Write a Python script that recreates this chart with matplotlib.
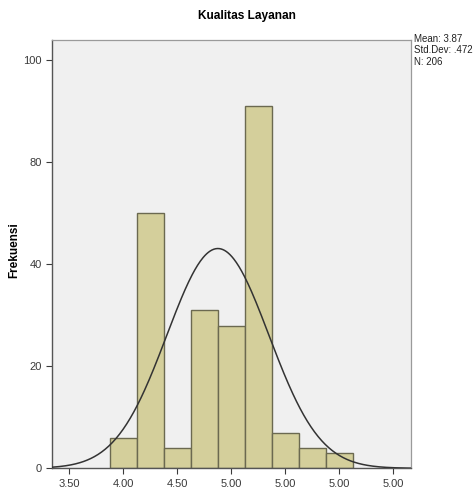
import numpy as np
import matplotlib.pyplot as plt

plt.rcParams['font.family'] = ['Liberation Sans', 'DejaVu Sans']

# data (bar centres in axis units, counts)
bin_centers = [4.0, 4.25, 4.5, 4.75, 5.0, 5.25, 5.5, 5.75, 6.0]
counts = [6, 50, 4, 31, 28, 71, 7, 4, 3]
bin_width = 0.25

x_ticks = [3.5, 4.0, 4.5, 5.0, 5.5, 6.0, 6.5]
x_labels = ['3.50', '4.00', '4.50', '5.00', '5.00', '5.00', '5.00']
y_ticks = [0, 20, 40, 60, 80]
y_labels = ['0', '20', '40', '80', '100']

curve_mean = 4.875
curve_sd = 0.472
stats_text = "Mean: 3.87\nStd.Dev: .472\nN: 206"

fig = plt.figure(figsize=(4.74, 4.94), dpi=100)
ax = fig.add_axes([0.1097, 0.052, 0.7573, 0.868])
ax.set_facecolor('#f0f0f0')

ax.bar(bin_centers, counts, width=bin_width, color='#d4cf9b',
       edgecolor='#6b6950', linewidth=1.0, zorder=2)

# normal curve
n_total = sum(counts)
xs = np.linspace(3.34, 6.66, 400)
ys = n_total * bin_width / (curve_sd * np.sqrt(2 * np.pi)) * np.exp(-0.5 * ((xs - curve_mean) / curve_sd) ** 2)
ax.plot(xs, ys, color='#333333', linewidth=1.1, zorder=3)

ax.set_xlim(3.339, 6.663)
ax.set_ylim(0, 84.1)
ax.set_xticks(x_ticks)
ax.set_xticklabels(x_labels)
ax.set_yticks(y_ticks)
ax.set_yticklabels(y_labels)
ax.tick_params(axis='both', labelsize=8, colors='#3a3a3a', length=4, width=0.8, direction='out')
ax.tick_params(axis='x', pad=4)

for side in ['top', 'right']:
    ax.spines[side].set_color('#9a9a9a')
    ax.spines[side].set_linewidth(0.9)
for side in ['left', 'bottom']:
    ax.spines[side].set_color('#555555')
    ax.spines[side].set_linewidth(1.0)

fig.text(0.03, 0.494, 'Frekuensi', rotation=90, ha='center', va='center',
         fontsize=8.5, fontweight='bold')
fig.text(0.52, 0.968, 'Kualitas Layanan', ha='center', va='center',
         fontsize=8.6, fontweight='bold')
fig.text(0.873, 0.932, stats_text, ha='left', va='top', fontsize=7,
         color='#222222', linespacing=1.2)

fig.savefig('out.png', dpi=100)
